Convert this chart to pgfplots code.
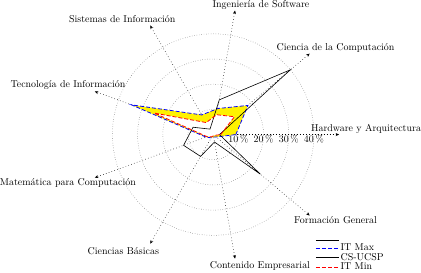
\documentclass[border=0pt]{standalone}
\usepackage{pgfplots}
\pgfplotsset{compat=1.18}
\usepgfplotslibrary{polar}
\usetikzlibrary{arrows.meta}
\begin{document}
\begin{tikzpicture}
\begin{polaraxis}[
  width=253pt, height=253pt, scale only axis,
  xmin=0, xmax=360, ymin=0, ymax=50,
  xtick=\empty,
  ytick={10,20,30,40},
  yticklabel={\pgfmathprintnumber{\tick}\,\%},
  yticklabel style={anchor=north, inner sep=0.5pt, font=\normalsize},
  ymajorgrids,
  y grid style={black!65, dotted, line width=0.5pt},
  axis line style={draw=none},
  x axis line style={draw=none},
  y axis line style={draw=none},
  tick style={draw=none},
  clip=false,
  legend style={at={(0.903,0.088)}, anchor=north west, draw=none, fill=none,
    row sep=-1pt, inner sep=0pt, nodes={inner sep=1pt}},
  legend cell align=left,
  legend image code/.code={\draw[#1] (0cm,0cm) -- (0.8cm,0cm);},
]
% radial axes
\foreach \a in {0,40,...,320} {
  \edef\temp{\noexpand\draw[dash pattern=on 0.6pt off 2.4pt, line width=0.5pt, -{Stealth[length=3.5pt,width=3pt]}] (axis cs:\a,0) -- (axis cs:\a,50);}
  \temp
}
% band between IT Max and IT Min
\addplot[fill=yellow, draw=none, forget plot] coordinates {
(0,9) (40,18) (80,10.5) (120,9) (160,34.5) (200,3) (240,1.5) (280,1) (320,1.5) (360,9)};
\addplot[fill=white, draw=none, forget plot] coordinates {
(0,3) (40,11) (80,8) (120,5.5) (160,25) (200,2.5) (240,1) (280,0.5) (320,0.5) (360,3)};
\addlegendimage{black, double, double distance=0.8pt, line width=0.6pt}
\addlegendentry{\rule{0pt}{2pt}}
\addplot[blue, dash pattern=on 4pt off 2pt, line width=0.8pt] coordinates {
(0,9) (40,18) (80,10.5) (120,9) (160,34.5) (200,3) (240,1.5) (280,1) (320,1.5) (360,9)};
\addlegendentry{IT Max}
\addplot[black, line width=0.6pt] coordinates {
(0,2.5) (40,40) (80,14) (120,2.5) (160,8.5) (200,12.5) (240,10) (280,3) (320,24.5) (360,2.5)};
\addlegendentry{CS-UCSP}
\addplot[red, dash pattern=on 4pt off 2pt, line width=0.8pt] coordinates {
(0,3) (40,11) (80,8) (120,5.5) (160,25) (200,2.5) (240,1) (280,0.5) (320,0.5) (360,3)};
\addlegendentry{IT Min}
% category labels
\node[inner sep=0pt, xshift=27pt, yshift=6pt] at (axis cs:0,50) {Hardware y Arquitectura};
\node[inner sep=0pt, xshift=26pt, yshift=6pt] at (axis cs:40,50) {Ciencia de la Computación};
\node[inner sep=0pt, xshift=26pt, yshift=6pt] at (axis cs:80,50) {Ingeniería de Software};
\node[inner sep=0pt, xshift=-28pt, yshift=6pt] at (axis cs:120,50) {Sistemas de Información};
\node[inner sep=0pt, xshift=-27pt, yshift=6pt] at (axis cs:160,50) {Tecnología de Información};
\node[inner sep=0pt, xshift=-27pt, yshift=-5.5pt] at (axis cs:200,50) {Matemática para Computación};
\node[inner sep=0pt, xshift=-27pt, yshift=-7pt] at (axis cs:240,50) {Ciencias Básicas};
\node[inner sep=0pt, xshift=25pt, yshift=-7pt] at (axis cs:280,50) {Contenido Empresarial};
\node[inner sep=0pt, xshift=26pt, yshift=-5pt] at (axis cs:320,50) {Formación General};
\end{polaraxis}
\end{tikzpicture}
\end{document}
